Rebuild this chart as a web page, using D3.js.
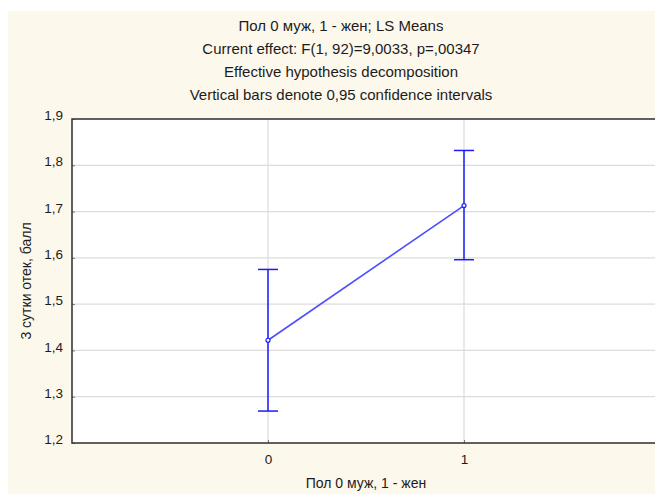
<!DOCTYPE html>
<html>
<head>
<meta charset="utf-8">
<script src="https://cdn.jsdelivr.net/npm/d3@7"></script>
<style>
  html, body { margin: 0; padding: 0; background: #fff; }
  svg { display: block; }
  text { font-family: "Liberation Sans", Arial, sans-serif; fill: #1c1c1c; }
</style>
</head>
<body>
<svg id="chart" width="655" height="494"></svg>
<script>
// LS means by sex with 0.95 confidence intervals
const categories = [0, 1];
const means = [1.422, 1.713];
const lower = [1.269, 1.596];
const upper = [1.575, 1.832];
const yTicks = [1.2, 1.3, 1.4, 1.5, 1.6, 1.7, 1.8, 1.9];
const titleLines = [
  "Пол 0 муж, 1 - жен; LS Means",
  "Current effect: F(1, 92)=9,0033, p=,00347",
  "Effective hypothesis decomposition",
  "Vertical bars denote 0,95 confidence intervals"
];
const xTitle = "Пол 0 муж, 1 - жен";
const yTitle = "3 сутки отек, балл";

const svg = d3.select("#chart");
const W = 655, H = 494;
const plot = { left: 72, top: 119, right: 660, bottom: 443 };

// panel background
svg.append("rect").attr("x", 8).attr("y", 11).attr("width", W - 8).attr("height", H - 11)
  .attr("fill", "#fdf8ec");

const x = d3.scaleLinear().domain([-1, 2]).range([plot.left, plot.right]);
const y = d3.scaleLinear().domain([1.2, 1.9]).range([plot.bottom, plot.top]);

// plot area
svg.append("rect").attr("x", plot.left).attr("y", plot.top)
  .attr("width", plot.right - plot.left).attr("height", plot.bottom - plot.top)
  .attr("fill", "#ffffff");

// grid
svg.append("g").selectAll("line").data(yTicks.slice(1, -1)).join("line")
  .attr("x1", plot.left).attr("x2", plot.right)
  .attr("y1", d => y(d)).attr("y2", d => y(d))
  .attr("stroke", "#dcdcdc").attr("stroke-width", 1.2);
svg.append("g").selectAll("line").data(categories).join("line")
  .attr("x1", d => x(d)).attr("x2", d => x(d))
  .attr("y1", plot.top).attr("y2", plot.bottom)
  .attr("stroke", "#dcdcdc").attr("stroke-width", 1.2);

// axes
const yAxis = d3.axisLeft(y).tickValues(yTicks).tickSizeInner(-3).tickSizeOuter(0)
  .tickPadding(9).tickFormat(d => d3.format(".1f")(d).replace(".", ","));
const gy = svg.append("g").attr("transform", `translate(${plot.left},0)`).call(yAxis);
gy.select(".domain").remove();
gy.selectAll(".tick line").attr("stroke", "#777");
gy.selectAll(".tick text").attr("font-size", 13.5).attr("fill", "#1c1c1c").attr("dy", "0.05em");

const xAxis = d3.axisBottom(x).tickValues(categories).tickSizeInner(-3).tickSizeOuter(0)
  .tickFormat(d3.format("d"));
const gx = svg.append("g").attr("transform", `translate(0,${plot.bottom})`).call(xAxis);
gx.select(".domain").remove();
gx.selectAll(".tick line").attr("stroke", "#777");
gx.selectAll(".tick text").attr("font-size", 13.5).attr("fill", "#1c1c1c")
  .attr("y", 20.5).attr("dy", null);

// frame
svg.append("rect").attr("x", plot.left).attr("y", plot.top)
  .attr("width", plot.right - plot.left).attr("height", plot.bottom - plot.top)
  .attr("fill", "none").attr("stroke", "#3a3a3a").attr("stroke-width", 1.6);

// connecting line
const line = d3.line().x((d, i) => x(categories[i])).y(d => y(d));
svg.append("path").datum(means).attr("d", line)
  .attr("fill", "none").attr("stroke", "#4d4dff").attr("stroke-width", 1.6);

// confidence interval whiskers
const cap = 10;
const eb = svg.append("g").attr("stroke", "#1a1aff").attr("stroke-width", 1.5);
categories.forEach((c, i) => {
  eb.append("line").attr("x1", x(c)).attr("x2", x(c)).attr("y1", y(lower[i])).attr("y2", y(upper[i]));
  eb.append("line").attr("x1", x(c) - cap).attr("x2", x(c) + cap).attr("y1", y(lower[i])).attr("y2", y(lower[i]));
  eb.append("line").attr("x1", x(c) - cap).attr("x2", x(c) + cap).attr("y1", y(upper[i])).attr("y2", y(upper[i]));
});

// mean markers
svg.append("g").selectAll("circle").data(means).join("circle")
  .attr("cx", (d, i) => x(categories[i])).attr("cy", d => y(d)).attr("r", 2)
  .attr("fill", "#ffffff").attr("stroke", "#1a1aff").attr("stroke-width", 1.2);

// titles
svg.append("g").selectAll("text").data(titleLines).join("text")
  .attr("x", 341).attr("y", (d, i) => 30.5 + i * 23.3)
  .attr("text-anchor", "middle").attr("font-size", 15).text(d => d);

svg.append("text").attr("x", 366).attr("y", 488).attr("text-anchor", "middle")
  .attr("font-size", 14).text(xTitle);

svg.append("text").attr("transform", `translate(31,${(plot.top + plot.bottom) / 2}) rotate(-90)`)
  .attr("text-anchor", "middle").attr("font-size", 14).text(yTitle);
</script>
</body>
</html>
